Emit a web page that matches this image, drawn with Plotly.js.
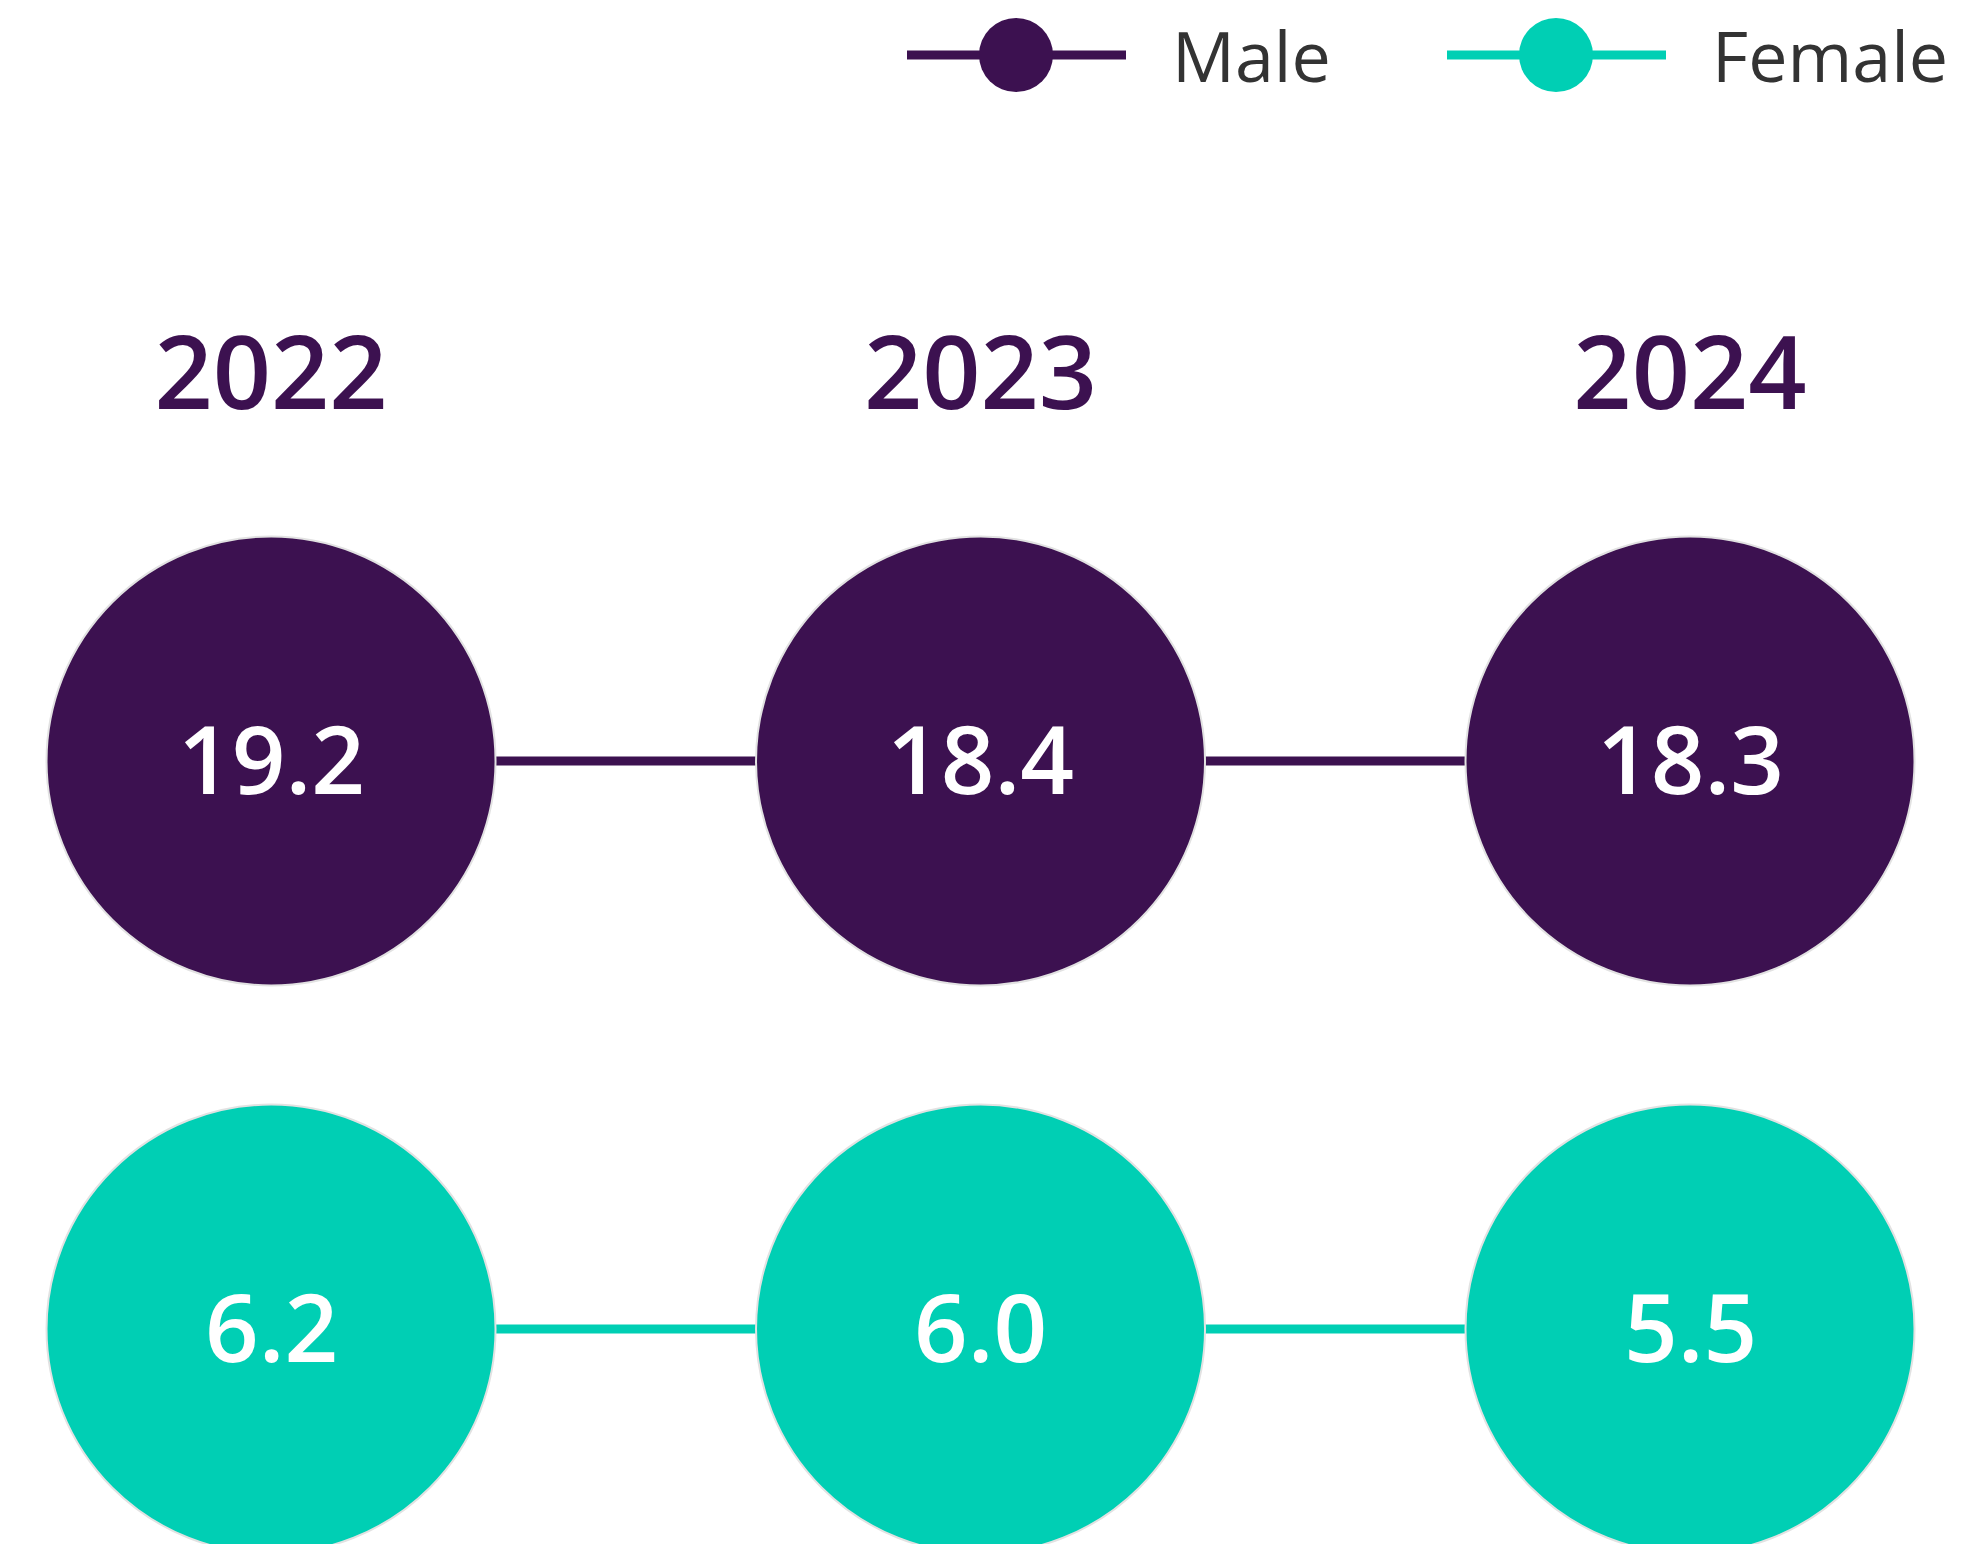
<!DOCTYPE html>
<html>
<head>
<meta charset="utf-8">
<script src="https://cdn.plot.ly/plotly-3.0.1.min.js"></script>
<style>html,body{margin:0;padding:0;background:#fff;}#chart{width:1988px;height:1544px;}</style>
</head>
<body>
<div id="chart"></div>
<script>
const years = ['2022', '2023', '2024'];
const maleValues = [19.2, 18.4, 18.3];
const femaleValues = [6.2, 6.0, 5.5];
const seriesNames = ['Male', 'Female'];

const PURPLE = '#3c1150';
const TEAL = '#00cfb4';
const FONT = 'Open Sans, sans-serif';
const W = 1988, H = 1544;
const M = {l: 0, r: 0, t: 440, b: 0};
const rowOrder = ['Female', 'Male'];

function mkTrace(name, color) {
  return {
    type: 'scatter',
    mode: 'lines+markers',
    name: name,
    x: years,
    y: years.map(() => name),
    line: {color: color, width: 9},
    marker: {color: color, size: 449, line: {color: '#e2e2e2', width: 2}},
    cliponaxis: false,
    showlegend: false,
    hoverinfo: 'skip'
  };
}

const data = [
  mkTrace(seriesNames[0], PURPLE),
  mkTrace(seriesNames[1], TEAL)
];

// value labels drawn at the data points (category axes use serial numbers)
const annotations = [];
[[seriesNames[0], maleValues], [seriesNames[1], femaleValues]].forEach(([name, vals]) => {
  vals.forEach((v, i) => {
    annotations.push({x: i, y: rowOrder.indexOf(name), xref: 'x', yref: 'y', text: v.toFixed(1), showarrow: false,
      xanchor: 'center', yanchor: 'middle', yshift: 3,
      font: {family: FONT, size: 94, color: '#ffffff', weight: 600}});
  });
});

// helpers: pixel -> paper
const pw = W - M.l - M.r, ph = H - M.t - M.b;
const px = x => (x - M.l) / pw;
const py = y => (H - M.b - y) / ph;

const legendItems = [
  {name: seriesNames[0], color: PURPLE, x0: 907, cx: 1016, x1: 1126, tx: 1170},
  {name: seriesNames[1], color: TEAL, x0: 1447, cx: 1556, x1: 1666, tx: 1710}
];
const legY = 55, legR = 37;
const shapes = [];
legendItems.forEach(it => {
  shapes.push({type: 'line', xref: 'paper', yref: 'paper', x0: px(it.x0), x1: px(it.x1), y0: py(legY), y1: py(legY),
    line: {color: it.color, width: 9}});
  shapes.push({type: 'circle', xref: 'paper', yref: 'paper', x0: px(it.cx - legR), x1: px(it.cx + legR),
    y0: py(legY - legR), y1: py(legY + legR), fillcolor: it.color, line: {color: it.color, width: 0}});
  annotations.push({xref: 'paper', yref: 'paper', x: px(it.tx), y: py(legY), xanchor: 'left', yanchor: 'middle',
    text: it.name, showarrow: false, font: {family: FONT, size: 70, color: '#333333'}});
});

const layout = {
  width: W, height: H,
  margin: M,
  paper_bgcolor: '#ffffff', plot_bgcolor: '#ffffff',
  showlegend: false,
  xaxis: {
    type: 'category', side: 'top', range: [-0.382, 2.42],
    showgrid: false, zeroline: false, showline: false, ticks: '',
    ticklabelstandoff: 10,
    tickfont: {family: FONT, size: 102, color: PURPLE, weight: 600},
    fixedrange: true
  },
  yaxis: {
    type: 'category', categoryorder: 'array', categoryarray: rowOrder,
    range: [-0.3785, 1.5651],
    showgrid: false, zeroline: false, showline: false, showticklabels: false, ticks: '',
    fixedrange: true
  },
  shapes: shapes,
  annotations: annotations
};

Plotly.newPlot('chart', data, layout, {displayModeBar: false, staticPlot: true});
</script>
</body>
</html>
